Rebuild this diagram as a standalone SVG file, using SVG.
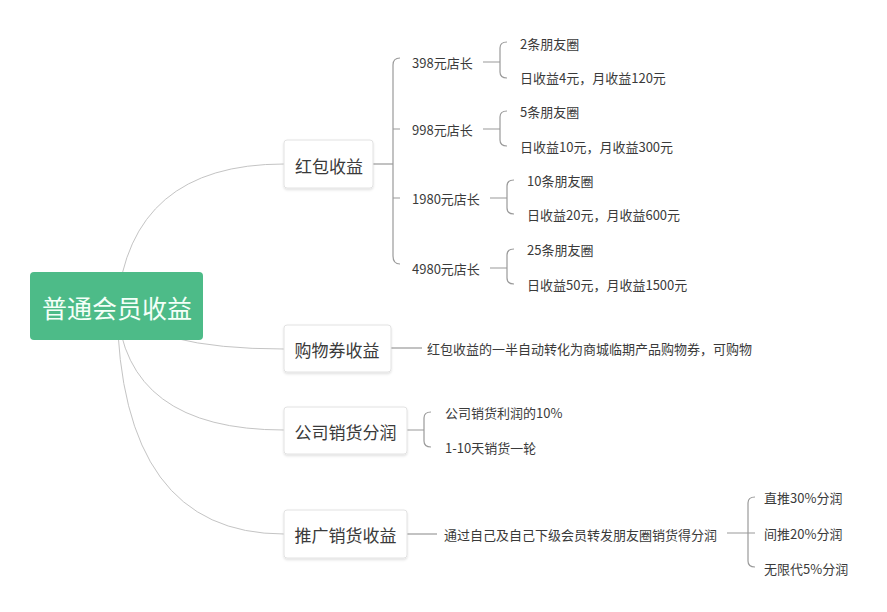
<svg xmlns="http://www.w3.org/2000/svg" width="887" height="612" viewBox="0 0 887 612">
<defs>
<filter id="sh" x="-10%" y="-10%" width="120%" height="130%">
<feDropShadow dx="0" dy="1.5" stdDeviation="1.2" flood-color="#000" flood-opacity="0.12"/>
</filter>
<style>
text{font-family:"Noto Sans CJK SC","Liberation Sans",sans-serif;dominant-baseline:central;fill:#3a3a3a}
.l1 rect{fill:#fff;stroke:#e2e2e2;stroke-width:1;filter:url(#sh)}
.l1 text{font-size:17px;text-anchor:middle}
.leaf{font-size:13px}
.root rect{fill:#4dbb88}
.root text{font-size:25px;fill:#f4fff8;text-anchor:middle}
.c0{fill:none;stroke:#c4c4c4;stroke-width:1}
.c1{fill:none;stroke:#9a9a9a;stroke-width:1.2}
</style>
</defs>
<rect width="887" height="612" fill="#fff"/>
<g id="connectors">
<path class="c0" d="M117,306 Q130,164 284,164"/>
<path class="c0" d="M117,306 Q150,349 284,349"/>
<path class="c0" d="M117,306 Q125,430 284,430"/>
<path class="c0" d="M117,306 Q120,534 284,534"/>
<!-- 红包收益 -->
<path class="c1" d="M373,164 H393"/>
<path class="c1" d="M400,58 Q393,58 393,65 V256 Q393,264 400,264"/>
<path class="c1" d="M393,129 H400 M393,198 H400"/>
<path class="c1" d="M483,62 H500 M507,42 Q500,42 500,48 V72 Q500,78 507,78"/>
<path class="c1" d="M483,129 H500 M507,111 Q500,111 500,117 V140 Q500,146 507,146"/>
<path class="c1" d="M490,198 H507 M514,180 Q507,180 507,186 V208 Q507,214 514,214"/>
<path class="c1" d="M490,268 H507 M514,249 Q507,249 507,255 V278 Q507,284 514,284"/>
<!-- 购物券 -->
<path class="c1" d="M391,348 H422"/>
<!-- 公司销货分润 -->
<path class="c1" d="M407,430 H424 M431,412 Q424,412 424,418 V441 Q424,447 431,447"/>
<!-- 推广 -->
<path class="c1" d="M407,534 H437"/>
<path class="c1" d="M727,533 H748 M755,497 Q748,497 748,503 V561 Q748,567 755,567 M748,533 H755"/>
</g>
<g id="root" class="root"><rect x="30" y="272" width="173" height="68" rx="4"/><text x="117" y="307">普通会员收益</text></g>
<g id="n-hongbao" class="l1"><rect x="284" y="140" width="89" height="48" rx="3"/><text x="329" y="165">红包收益</text></g>
<g id="n-gouwuquan" class="l1"><rect x="284" y="325" width="107" height="47" rx="3"/><text x="337" y="349">购物券收益</text></g>
<g id="n-gongsi" class="l1"><rect x="284" y="407" width="123" height="47" rx="3"/><text x="345.5" y="431">公司销货分润</text></g>
<g id="n-tuiguang" class="l1"><rect x="284" y="510" width="123" height="48" rx="3"/><text x="345.5" y="534">推广销货收益</text></g>
<g id="hb-398"><text class="leaf" x="412" y="62">398元店长</text></g>
<g id="hb-398-a"><text class="leaf" x="520" y="43">2条朋友圈</text></g>
<g id="hb-398-b"><text class="leaf" x="520" y="77">日收益4元，月收益120元</text></g>
<g id="hb-998"><text class="leaf" x="412" y="129">998元店长</text></g>
<g id="hb-998-a"><text class="leaf" x="520" y="111">5条朋友圈</text></g>
<g id="hb-998-b"><text class="leaf" x="520" y="146">日收益10元，月收益300元</text></g>
<g id="hb-1980"><text class="leaf" x="412" y="198">1980元店长</text></g>
<g id="hb-1980-a"><text class="leaf" x="527" y="180">10条朋友圈</text></g>
<g id="hb-1980-b"><text class="leaf" x="527" y="214">日收益20元，月收益600元</text></g>
<g id="hb-4980"><text class="leaf" x="412" y="268">4980元店长</text></g>
<g id="hb-4980-a"><text class="leaf" x="527" y="249">25条朋友圈</text></g>
<g id="hb-4980-b"><text class="leaf" x="527" y="284">日收益50元，月收益1500元</text></g>
<g id="gwq-1"><text class="leaf" x="427" y="348">红包收益的一半自动转化为商城临期产品购物券，可购物</text></g>
<g id="gs-1"><text class="leaf" x="445" y="412">公司销货利润的10%</text></g>
<g id="gs-2"><text class="leaf" x="445" y="447">1-10天销货一轮</text></g>
<g id="tg-1"><text class="leaf" x="444" y="534">通过自己及自己下级会员转发朋友圈销货得分润</text></g>
<g id="tg-a"><text class="leaf" x="764" y="497">直推30%分润</text></g>
<g id="tg-b"><text class="leaf" x="764" y="533">间推20%分润</text></g>
<g id="tg-c"><text class="leaf" x="764" y="568">无限代5%分润</text></g>
</svg>
